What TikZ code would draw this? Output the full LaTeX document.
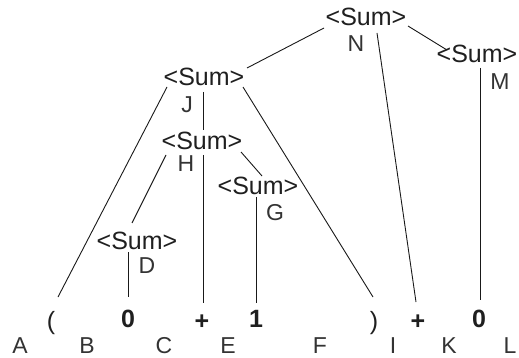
\documentclass[tikz,border=0pt]{standalone}
\usepackage{fontspec}
\setmainfont{Liberation Sans}
\begin{document}
\begin{tikzpicture}[x=1pt,y=-1pt,
  txt/.style={inner sep=0pt,text height=18pt,text depth=0pt,text=black!88,font=\fontsize{25}{28}\selectfont},
  tok/.style={txt,font=\fontsize{25}{28}\selectfont\bfseries},
  lbl/.style={txt,text=black!80,font=\fontsize{23}{26}\selectfont},
  edge/.style={draw=black!90,line width=0.9pt}]
\useasboundingbox (0,0) rectangle (519,358);
% Sum nodes
\node[txt] (N) at (366,17) {<Sum>};
\node[txt] (M) at (477,54) {<Sum>};
\node[txt] (J) at (204,77) {<Sum>};
\node[txt] (H) at (202,141) {<Sum>};
\node[txt] (G) at (258,186) {<Sum>};
\node[txt] (D) at (137,240) {<Sum>};
% labels of Sum nodes
\node[lbl] (lN) at (356,43) {N};
\node[lbl] (lM) at (500,81) {M};
\node[lbl] (lJ) at (187,104) {J};
\node[lbl] (lH) at (186,163) {H};
\node[lbl] (lG) at (275,211) {G};
\node[lbl] (lD) at (147,264) {D};
% tokens
\node[txt] (tA) at (51,320) {(};
\node[tok] (tC) at (128,318) {0};
\node[tok] (tE) at (202,320) {+};
\node[tok] (tF) at (256,318) {1};
\node[txt] (tI) at (374,320) {)};
\node[tok] (tK) at (418,320) {+};
\node[tok] (tL) at (479,318) {0};
% token labels
\node[lbl] (lA) at (20,344) {A};
\node[lbl] (lB) at (87,344) {B};
\node[lbl] (lC) at (164,344) {C};
\node[lbl] (lE) at (228,344) {E};
\node[lbl] (lF) at (320,344) {F};
\node[lbl] (lI) at (393,344) {I};
\node[lbl] (lK) at (449,344) {K};
\node[lbl] (lL) at (510,344) {L};
% connectors
\draw[edge] ([shift={(-42,11)}]N.center) -- ([shift={(43,-9)}]J.center);
\draw[edge] ([shift={(42,9)}]N.center) -- ([shift={(-30,-4)}]M.center);
\draw[edge] ([shift={(11,16)}]N.center) -- ([shift={(-2,-18)}]tK.center);
\draw[edge] ([shift={(3,14)}]M.center) -- ([shift={(1,-18)}]tL.center);
\draw[edge] ([shift={(-37,10)}]J.center) -- ([shift={(7,-23)}]tA.center);
\draw[edge] ([shift={(-1,15)}]J.center) -- ([shift={(1,-11)}]H.center);
\draw[edge] ([shift={(39,10)}]J.center) -- ([shift={(-1,-23)}]tI.center);
\draw[edge] ([shift={(-36,14)}]H.center) -- ([shift={(-5,-17)}]D.center);
\draw[edge] ([shift={(1,14)}]H.center) -- ([shift={(1,-17)}]tE.center);
\draw[edge] ([shift={(39,11)}]H.center) -- ([shift={(4,-10)}]G.center);
\draw[edge] ([shift={(-2,11)}]G.center) -- ([shift={(0,-15)}]tF.center);
\draw[edge] ([shift={(-9,12)}]D.center) -- ([shift={(0,-21)}]tC.center);
\end{tikzpicture}
\end{document}
